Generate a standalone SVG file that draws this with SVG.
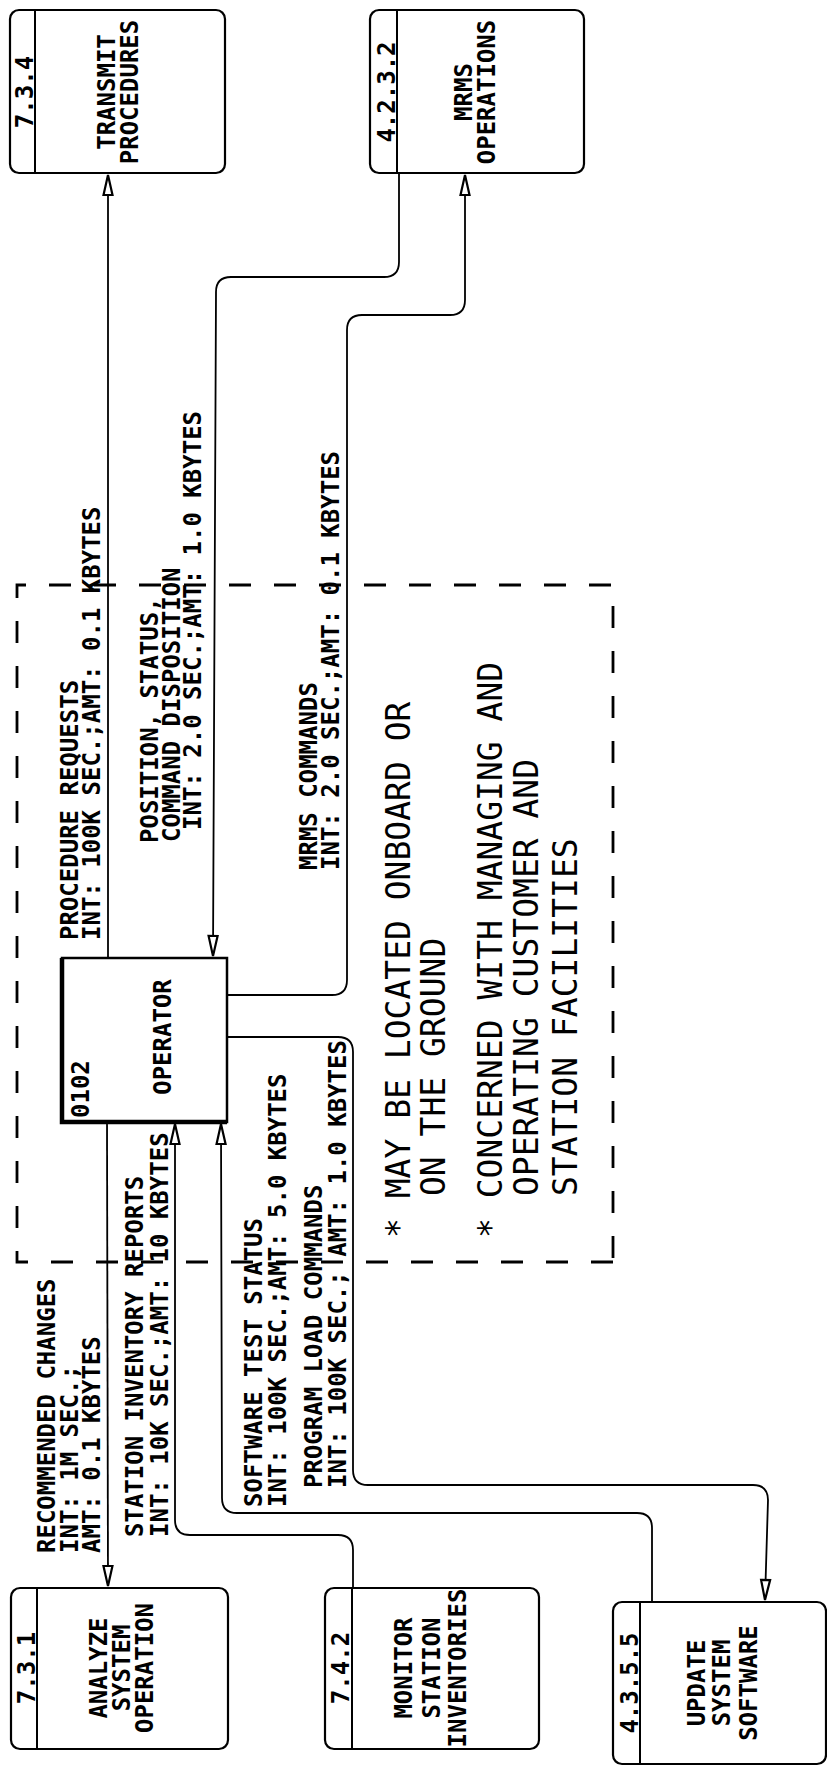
<svg xmlns="http://www.w3.org/2000/svg" width="827" height="1772" viewBox="0 0 827 1772">
<defs>
<style>
.lbl{font-family:"DejaVu Sans Mono","Liberation Mono",monospace;font-weight:bold;font-size:24px;fill:#000}
.note{font-family:"DejaVu Sans Mono","Liberation Mono",monospace;font-size:33px;fill:#000}
.box{fill:#fff;stroke:#000;stroke-width:2.2}
.div{stroke:#000;stroke-width:2}
.conn{fill:none;stroke:#000;stroke-width:1.8}
.bound{fill:none;stroke:#000;stroke-width:2.8;stroke-dasharray:22 23}
</style>
<marker id="arr" markerWidth="20" markerHeight="12" refX="20" refY="6" orient="auto" markerUnits="userSpaceOnUse" viewBox="0 0 20 12" overflow="visible">
<path d="M0,1.5 L20,6 L0,10.5 Z" fill="#fff" stroke="#000" stroke-width="2.2" stroke-linejoin="miter"/>
</marker>
</defs>
<rect width="827" height="1772" fill="#fff"/>

<g id="boundary">
<path class="bound" d="M613,1262 H17 V585 H613 Z"/>
</g>

<g id="connectors">
<path class="conn" d="M108,958 V175" marker-end="url(#arr)"/>
<path class="conn" d="M399,173 V262 Q399,277 384,277 H231 Q216,277 216,292 L213,956" marker-end="url(#arr)"/>
<path class="conn" d="M227,995 H332 Q347,995 347,980 V330 Q347,315 362,315 H450 Q465,315 465,300 V175" marker-end="url(#arr)"/>
<path class="conn" d="M227,1037 H338 Q353,1037 353,1052 V1470 Q353,1485 368,1485 H753 Q768,1485 768,1500 L765,1600" marker-end="url(#arr)"/>
<path class="conn" d="M652,1602 V1528 Q652,1513 637,1513 H237 Q222,1513 222,1498 L221,1124" marker-end="url(#arr)"/>
<path class="conn" d="M353,1588 V1550 Q353,1535 338,1535 H190 Q175,1535 175,1520 V1124" marker-end="url(#arr)"/>
<path class="conn" d="M107,1122 L108,1586" marker-end="url(#arr)"/>
</g>

<g id="flow-labels">
<text class="lbl" transform="translate(78,940) rotate(-90)">PROCEDURE REQUESTS</text>
<text class="lbl" transform="translate(100,940) rotate(-90)">INT: 100K SEC.;AMT: 0.1 KBYTES</text>
<text class="lbl" transform="translate(158,843) rotate(-90)">POSITION, STATUS,</text>
<text class="lbl" transform="translate(180,842) rotate(-90)">COMMAND DISPOSITION</text>
<text class="lbl" transform="translate(201,830) rotate(-90)">INT: 2.0 SEC.;AMT: 1.0 KBYTES</text>
<text class="lbl" transform="translate(317,870) rotate(-90)">MRMS COMMANDS</text>
<text class="lbl" transform="translate(339,870) rotate(-90)">INT: 2.0 SEC.;AMT: 0.1 KBYTES</text>
<text class="lbl" transform="translate(55,1553) rotate(-90)">RECOMMENDED CHANGES</text>
<text class="lbl" transform="translate(78,1553) rotate(-90)">INT: 1M SEC.;</text>
<text class="lbl" transform="translate(100,1553) rotate(-90)">AMT: 0.1 KBYTES</text>
<text class="lbl" transform="translate(143,1537) rotate(-90)">STATION INVENTORY REPORTS</text>
<text class="lbl" transform="translate(168,1537) rotate(-90)">INT: 10K SEC.;AMT: 10 KBYTES</text>
<text class="lbl" transform="translate(262,1507) rotate(-90)">SOFTWARE TEST STATUS</text>
<text class="lbl" transform="translate(286,1507) rotate(-90)">INT: 100K SEC.;AMT: 5.0 KBYTES</text>
<text class="lbl" transform="translate(322,1488) rotate(-90)">PROGRAM LOAD COMMANDS</text>
<text class="lbl" transform="translate(346,1488) rotate(-90)">INT: 100K SEC.; AMT: 1.0 KBYTES</text>
</g>

<g id="note">
<text class="note" transform="translate(410,1238) rotate(-90)">* MAY BE LOCATED ONBOARD OR</text>
<text class="note" transform="translate(445,1196) rotate(-90)">ON THE GROUND</text>
<text class="note" transform="translate(502,1238) rotate(-90)">* CONCERNED WITH MANAGING AND</text>
<text class="note" transform="translate(538,1196) rotate(-90)">OPERATING CUSTOMER AND</text>
<text class="note" transform="translate(577,1196) rotate(-90)">STATION FACILITIES</text>
</g>

<g id="node-7-3-4">
<rect class="box" x="10" y="10" width="215" height="163" rx="9"/>
<line class="div" x1="35" y1="10" x2="35" y2="173"/>
<text class="lbl" text-anchor="middle" transform="translate(33,92) rotate(-90)">7.3.4</text>
<text class="lbl" text-anchor="middle" transform="translate(115,92) rotate(-90)">TRANSMIT</text>
<text class="lbl" text-anchor="middle" transform="translate(138,92) rotate(-90)">PROCEDURES</text>
</g>

<g id="node-4-2-3-2">
<rect class="box" x="370" y="10" width="214" height="163" rx="9"/>
<line class="div" x1="397" y1="10" x2="397" y2="173"/>
<text class="lbl" text-anchor="middle" transform="translate(395,92) rotate(-90)">4.2.3.2</text>
<text class="lbl" text-anchor="middle" transform="translate(472,92) rotate(-90)">MRMS</text>
<text class="lbl" text-anchor="middle" transform="translate(495,92) rotate(-90)">OPERATIONS</text>
</g>

<g id="node-operator">
<rect x="62" y="958" width="165" height="164" fill="#fff" stroke="#000" stroke-width="2.5"/>
<path d="M62,958 V1122 H227" fill="none" stroke="#000" stroke-width="4.5"/>
<text class="lbl" transform="translate(89,1118) rotate(-90)">0102</text>
<text class="lbl" text-anchor="middle" transform="translate(171,1037) rotate(-90)">OPERATOR</text>
</g>

<g id="node-7-3-1">
<rect class="box" x="11" y="1588" width="217" height="161" rx="9"/>
<line class="div" x1="37" y1="1588" x2="37" y2="1749"/>
<text class="lbl" text-anchor="middle" transform="translate(35,1668) rotate(-90)">7.3.1</text>
<text class="lbl" text-anchor="middle" transform="translate(107,1668) rotate(-90)">ANALYZE</text>
<text class="lbl" text-anchor="middle" transform="translate(130,1668) rotate(-90)">SYSTEM</text>
<text class="lbl" text-anchor="middle" transform="translate(153,1668) rotate(-90)">OPERATION</text>
</g>

<g id="node-7-4-2">
<rect class="box" x="325" y="1588" width="214" height="161" rx="9"/>
<line class="div" x1="352" y1="1588" x2="352" y2="1749"/>
<text class="lbl" text-anchor="middle" transform="translate(349,1668) rotate(-90)">7.4.2</text>
<text class="lbl" text-anchor="middle" transform="translate(412,1668) rotate(-90)">MONITOR</text>
<text class="lbl" text-anchor="middle" transform="translate(440,1668) rotate(-90)">STATION</text>
<text class="lbl" text-anchor="middle" transform="translate(466,1668) rotate(-90)">INVENTORIES</text>
</g>

<g id="node-4-3-5-5">
<rect class="box" x="613" y="1602" width="213" height="162" rx="9"/>
<line class="div" x1="640" y1="1602" x2="640" y2="1764"/>
<text class="lbl" text-anchor="middle" transform="translate(638,1683) rotate(-90)">4.3.5.5</text>
<text class="lbl" text-anchor="middle" transform="translate(705,1683) rotate(-90)">UPDATE</text>
<text class="lbl" text-anchor="middle" transform="translate(730,1683) rotate(-90)">SYSTEM</text>
<text class="lbl" text-anchor="middle" transform="translate(757,1683) rotate(-90)">SOFTWARE</text>
</g>
</svg>
